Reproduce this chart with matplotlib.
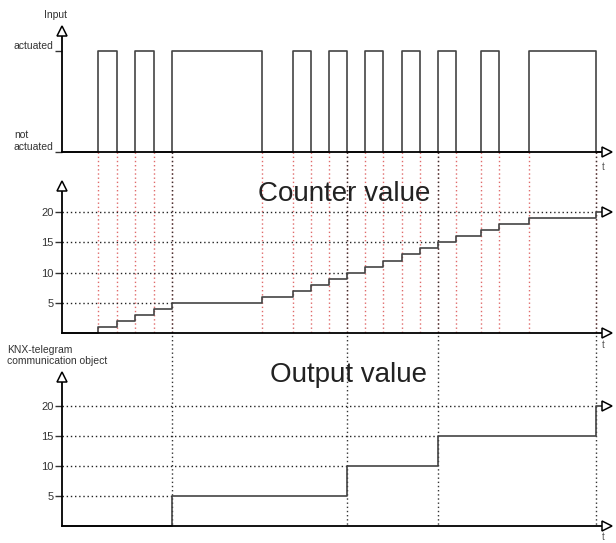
import matplotlib.pyplot as plt

plt.rcParams['font.family'] = ['Liberation Sans', 'DejaVu Sans']

# times at which the push button changes state
edges = [98, 116.5, 135, 153.5, 171.5, 262, 292.5, 311, 329, 347,
         365, 383, 401.5, 419.5, 437.5, 456, 480.5, 499, 529, 596]
input_levels = [1, 0] * 10            # actuated / not actuated after each edge
counter = list(range(1, 21))          # counter value after each edge
output_times = edges[4::5]            # a telegram every 5 counts
output_values = [5, 10, 15, 20]
levels = [5, 10, 15, 20]

W, H = 616, 543
X0, TEND = 62, 602
dot = (0, (1, 2))
line_col = '#444444'
red = '#e06a6a'

fig = plt.figure(figsize=(W / 100, H / 100), dpi=100)

# overlay for the guide lines that run across the panels (y in pixels)
ov = fig.add_axes([X0 / W, 0, 1 - X0 / W, 1])
ov.set_xlim(X0, W)
ov.set_ylim(H, 0)
ov.axis('off')
ov.vlines(edges, 152, 333, colors=red, lw=1, linestyles=dot)
ov.vlines(output_times, 152, 526, colors='#333333', lw=1, linestyles=dot)


def band(top, bottom, zero, unit, ytop):
    ax = fig.add_axes([X0 / W, 1 - bottom / H, 1 - X0 / W, (bottom - top) / H])
    ax.set_xlim(X0, W)
    ax.set_ylim((zero - bottom) / unit, (zero - top) / unit)
    ax.patch.set_alpha(0)
    for s in ax.spines.values():
        s.set_visible(False)
    ax.set_xticks([])
    ax.tick_params(axis='y', length=5, width=1, pad=1, labelsize=8,
                   labelcolor='#333333', color='#333333')
    # axes with open arrow heads
    ax.plot([X0, TEND], [0, 0], color='k', lw=1.3, clip_on=False, zorder=4)
    ax.plot([X0, X0], [0, ytop], color='k', lw=1.3, clip_on=False, zorder=4)
    ax.plot(TEND + 5, 0, marker='>', ms=7, mfc='white', mec='k', mew=1.1,
            clip_on=False, zorder=5)
    ax.plot(X0, ytop, marker='^', ms=7, mfc='white', mec='k', mew=1.1,
            clip_on=False, zorder=5)
    return ax


# ---- input signal
ax1 = band(0, 170, 152, 101, 1.2)
ax1.step([X0] + edges + [TEND], [0] + input_levels + [0], where='post',
         color=line_col, lw=1.2)
ax1.set_yticks([0, 1], ['not\nactuated', 'actuated'], va='bottom')
for lab in ax1.get_yticklabels():
    lab.set_multialignment('left')
    lab.set_fontsize(7.5)
ax1.text(X0 - 6, 1.355, 'Input', fontsize=7.5, color='#333333',
         ha='center', va='center')
ax1.text(TEND + 1, -0.145, 't', fontsize=7, color='#555555', ha='center', va='center')

# ---- counter value
ax2 = band(170, 338, 333, 6.04, 24.3)
for lv, tx in zip(levels, output_times):
    ax2.plot([X0, tx], [lv, lv], color='#222222', lw=1, ls=dot)
ax2.step([X0] + edges + [TEND], [0] + counter + [20], where='post',
         color=line_col, lw=1.2, zorder=3)
ax2.plot(TEND + 5, 20, marker='>', ms=7, mfc='white', mec='k', mew=1.1,
         clip_on=False, zorder=5)
ax2.set_yticks(levels)
ax2.text(344, 23.0, 'Counter value', fontsize=20, color='#222222',
         ha='center', va='center')
ax2.text(TEND + 1, -2.0, 't', fontsize=7, color='#555555', ha='center', va='center')

# ---- output value (KNX telegram)
ax3 = band(340, 543, 526, 6.0, 24.8)
for lv, tx in zip(levels, output_times):
    ax3.plot([X0, tx], [lv, lv], color='#222222', lw=1, ls=dot)
ax3.step([X0] + output_times + [TEND], [0] + output_values + [20], where='post',
         color=line_col, lw=1.2, zorder=3)
ax3.plot(TEND + 5, 20, marker='>', ms=7, mfc='white', mec='k', mew=1.1,
         clip_on=False, zorder=5)
ax3.set_yticks(levels)
ax3.text(348, 25.2, 'Output value', fontsize=20, color='#222222',
         ha='center', va='center')
ax3.text(TEND + 1, -1.8, 't', fontsize=7, color='#555555', ha='center', va='center')

fig.text(7 / W, 1 - 345 / H, 'KNX-telegram\ncommunication object', fontsize=7.5,
         color='#333333', ha='left', va='top', linespacing=1.1)

fig.savefig('out.png', dpi=100)
